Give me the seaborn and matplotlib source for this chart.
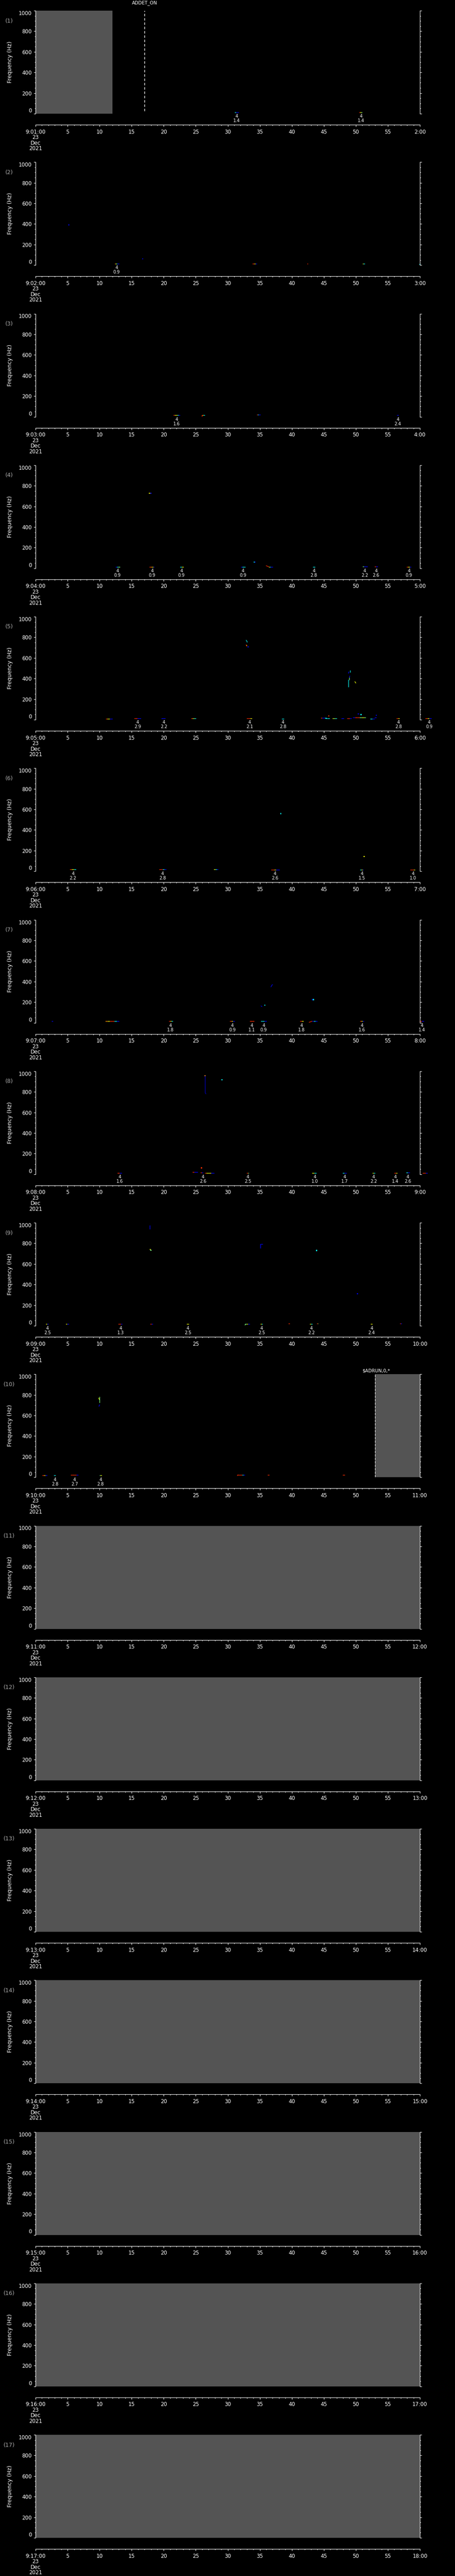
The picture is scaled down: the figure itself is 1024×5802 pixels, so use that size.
import numpy as np
import pandas as pd
import matplotlib
matplotlib.use("Agg")
import matplotlib.pyplot as plt
import seaborn as sns

# one panel per minute, 09:01 .. 09:17, 23 Dec 2021
minutes = list(range(1, 18))
freq_ticks = [0, 200, 400, 600, 800, 1000]

# detections: time in s, label value under the "4"
ev_t = [
    [31.4, 50.8],
    [12.65],
    [22.04, 56.55],
    [12.79, 18.19, 22.77, 32.38, 43.45, 51.39, 53.15, 58.28],
    [15.96, 20.05, 33.42, 38.64, 56.64, 61.45],
    [5.85, 19.82, 37.37, 50.98, 58.91],
    [21.09, 30.70, 33.74, 35.60, 41.54, 50.98, 60.32],
    [13.15, 26.12, 33.15, 43.63, 48.25, 52.79, 56.19, 58.10],
    [1.88, 13.29, 23.8, 35.3, 43.08, 52.46],
    [3.02, 6.07, 10.15],
]
ev_v = [
    ["1.4", "1.4"],
    ["0.9"],
    ["1.6", "2.4"],
    ["0.9", "0.9", "0.9", "0.9", "2.8", "2.2", "2.6", "0.9"],
    ["2.9", "2.2", "2.1", "2.8", "2.8", "0.9"],
    ["2.2", "2.8", "2.6", "1.5", "1.0"],
    ["1.8", "0.9", "1.1", "0.9", "1.8", "1.6", "1.4"],
    ["1.6", "2.6", "2.5", "1.0", "1.7", "2.2", "1.4", "2.6"],
    ["2.5", "1.3", "2.5", "2.5", "2.2", "2.4"],
    ["2.8", "2.7", "2.8"],
]

# low-frequency streaks: t0, t1, freq, colour codes along the streak
streaks = [
    [(31.1, 31.7, 11, "cbb"), (50.5, 51.0, 11, "ryg")],
    [(12.33, 13.02, 14, "rygcbb"), (33.88, 34.56, 14, "ryb"), (42.36, 42.54, 14, "r"),
     (51.02, 51.38, 12, "yc"), (59.87, 60.1, 10, "c")],
    [(21.5, 22.54, 14, "ryycb"), (25.94, 26.4, 14, "ryc"), (34.56, 35.1, 18, "rcbb"),
     (56.37, 56.69, 14, "b")],
    [(12.47, 13.15, 14, "bcg"), (17.78, 18.55, 14, "royb"), (22.54, 23.08, 14, "cy"),
     (32.06, 32.74, 14, "bcc"), (36.4, 37.05, 14, "ycbb"), (43.31, 43.63, 14, "c"),
     (51.02, 51.79, 18, "gbb"), (52.92, 53.38, 18, "rb"), (57.91, 58.6, 14, "ryb")],
    [(10.97, 12.02, 10, "ryybb"), (15.37, 16.42, 12, "rrbb"), (19.64, 20.27, 14, "bb"),
     (24.26, 25.03, 12, "rygc"), (32.97, 33.79, 15, "rry"), (38.41, 38.78, 10, "c"),
     (44.54, 45.4, 17, "rbbc"), (45.2, 45.9, 12, "cc"), (46.35, 47.03, 15, "ygc"),
     (47.71, 48.17, 15, "b"), (48.62, 49.3, 12, "rrb"), (49.53, 51.57, 20, "brrgyg"),
     (52.25, 52.93, 10, "cb"), (52.9, 53.2, 20, "b"), (56.35, 56.81, 14, "ry"),
     (60.86, 61.77, 12, "ryb")],
    [(5.31, 6.3, 18, "ryc"), (19.27, 20.36, 18, "rrcb"), (27.84, 28.53, 18, "ycb"),
     (36.73, 38.05, 14, "rrybb"), (50.66, 51.2, 14, "cyb"), (58.5, 59.27, 14, "rry")],
    [(2.49, 2.68, 14, "b"), (10.88, 13.02, 14, "oyrrcb"), (20.82, 21.41, 14, "ryc"),
     (30.34, 31.07, 14, "ryb"), (33.42, 34.1, 14, "rr"), (35.15, 36.06, 14, "ccb"),
     (41.27, 41.81, 14, "ry"), (43.15, 44.0, 14, "bcb"), (50.66, 51.25, 14, "ryb"),
     (59.96, 60.64, 14, "rb")],
    [(12.79, 13.47, 14, "rb"), (24.49, 25.35, 22, "rbb"), (25.71, 26.17, 18, "rb"),
     (26.4, 27.89, 14, "ryyybb"), (32.97, 33.29, 14, "rg"), (43.17, 43.86, 14, "yc"),
     (47.94, 48.53, 14, "cb"), (52.56, 52.97, 14, "yc"), (55.97, 56.47, 14, "ry"),
     (57.82, 58.37, 18, "cb"), (60.41, 61.18, 14, "rrb")],
    [(1.63, 2.04, 16, "yb"), (4.69, 5.18, 16, "yb"), (12.92, 13.53, 16, "rrb"),
     (17.9, 18.3, 16, "rb"), (23.6, 23.9, 16, "y"), (32.7, 33.4, 16, "gyb"),
     (35.1, 35.46, 16, "yc"), (39.5, 39.7, 21, "r"), (42.8, 43.2, 16, "yc"),
     (43.9, 44.15, 21, "rg"), (52.3, 52.6, 16, "y"), (56.9, 57.15, 21, "rb")],
    [(1.02, 1.83, 20, "ryb"), (2.85, 3.1, 18, "c"), (5.5, 6.64, 23, "rrrb"),
     (9.99, 10.31, 18, "gy"), (31.5, 32.7, 23, "rrrcb"), (36.2, 36.5, 23, "r"),
     (47.93, 48.26, 23, "r")],
]

# short tracks (lines) at higher frequency: times, freqs, colour code
tracks = [
    [], [], [],
    [([36.0, 36.4], [24, 14], "r")],
    [([32.88, 33.0, 33.05], [772, 760, 752], "c"), ([32.88, 32.95], [728, 714], "r"),
     ([48.85, 48.85], [320, 390], "c"), ([48.95, 48.95], [390, 410], "g"),
     ([49.0, 49.05], [410, 425], "b"), ([48.85, 48.9], [450, 465], "b"),
     ([49.1, 49.1], [460, 480], "c"), ([49.85, 50.0], [370, 355], "y")],
    [],
    [([42.7, 43.15], [4, 14], "r"), ([35.2, 35.35], [163, 156], "b"),
     ([36.75, 36.9, 37.0], [347, 365, 370], "b")],
    [([26.49, 26.49, 26.6], [954, 790, 780], "k")],
    [([17.85, 17.85], [938, 975], "b"), ([35.1, 35.46], [792, 792], "b"),
     ([35.1, 35.1], [792, 754], "b"), ([32.7, 32.8], [6, 16], "g")],
    [([10.0, 10.0], [726, 783], "g"), ([9.9, 10.0], [688, 704], "b"),
     ([9.85, 9.95], [770, 755], "y"), ([31.5, 31.6], [16, 23], "r")],
]

# isolated specks: time, freq, colour code
specks = [
    [], [(5.2, 391, "b"), (16.7, 62, "b")],
    [(26.0, 8, "r")],
    [(17.8, 728, "y"), (18.0, 728, "b"), (34.15, 60, "c"), (34.25, 58, "b")],
    [(33.2, 706, "b"), (32.95, 720, "y"), (45.8, 37, "r"), (50.4, 55, "b"),
     (50.8, 50, "c"), (53.2, 43, "b")],
    [(38.3, 560, "c"), (51.3, 143, "y")],
    [(35.8, 170, "c"), (43.2, 225, "b"), (43.4, 225, "c")],
    [(26.45, 955, "o"), (29.1, 917, "c"), (25.9, 62, "r")],
    [(17.9, 741, "y"), (18.0, 733, "g"), (43.86, 730, "c"), (50.25, 311, "b")],
    [],
]

# grey "no data" spans: panel, t0, t1
gaps = [(1, 0, 12.0), (10, 53.0, 60)] + [(m, 0, 60) for m in range(11, 18)]

code_val = {"k": 0.06, "b": 0.13, "c": 0.36, "g": 0.5, "y": 0.64, "o": 0.76, "r": 0.86}
cmap = plt.get_cmap("jet")

sns.set_theme(style="ticks", rc={
    "figure.facecolor": "black", "axes.facecolor": "black", "savefig.facecolor": "black",
    "axes.edgecolor": "white", "axes.labelcolor": "white", "text.color": "white",
    "xtick.color": "white", "ytick.color": "white", "axes.grid": False,
    "axes.linewidth": 0.8,
})
plt.rcParams["font.family"] = ["DejaVu Sans"]

W, H = 1024, 5802
fig = plt.figure(figsize=(W / 100, H / 100), dpi=100)

left, right = 80, 945
pitch = 341.25
for i, m in enumerate(minutes):
    top = 24 + i * pitch
    bot = top + 232
    ax = fig.add_axes([left / W, 1 - bot / H, (right - left) / W, 232 / H])
    ax.set_xlim(0, 60)
    ax.set_ylim(0, 1000)

    for (pm, t0, t1) in gaps:
        if pm == m:
            ax.axvspan(t0, t1, color="#545454", lw=0, zorder=0)
            if pm == 10:
                ax.axvline(t0, color="white", lw=0.8, ls=(0, (5, 2)))

    if i < len(streaks):
        for t0, t1, f, codes in streaks[i]:
            n = len(codes)
            edges = np.linspace(t0, t1, n + 1)
            ax.hlines([f] * n, edges[:-1], edges[1:],
                      colors=[cmap(code_val[c]) for c in codes], lw=1.0, clip_on=False)
        for ts, fs, c in tracks[i]:
            ax.plot(ts, fs, color=cmap(code_val[c]), lw=0.9)
        if specks[i]:
            df = pd.DataFrame(specks[i], columns=["t", "f", "c"])
            df["v"] = df["c"].map(code_val)
            sns.scatterplot(data=df, x="t", y="f", hue="v", palette=cmap, hue_norm=(0, 1),
                            marker="s", s=3, linewidth=0, legend=False, ax=ax)
        for t, v in zip(ev_t[i], ev_v[i]):
            ax.annotate("4", xy=(t, 0), xycoords=("data", "axes fraction"),
                        xytext=(0, -6), textcoords="offset pixels", ha="center",
                        va="center", fontsize=7, annotation_clip=False)
            ax.annotate(v, xy=(t, 0), xycoords=("data", "axes fraction"),
                        xytext=(0, -16), textcoords="offset pixels", ha="center",
                        va="center", fontsize=7, annotation_clip=False)

    if m == 1:
        ax.axvline(17.0, ymin=0.026, ymax=1.0, color="white", lw=1.0, ls=(0, (4, 3)))
        fig.text(325 / W, 1 - 6.5 / H, "ADDET_ON", ha="center", va="center", fontsize=7.5)
    if m == 10:
        fig.text(815 / W, 1 - (top - 8) / H, "$ADRUN,0,*", ha="left", va="center", fontsize=7.5)

    ax.set_xlabel("")
    ax.set_ylabel("")
    ax.spines["top"].set_visible(False)
    ax.spines["bottom"].set_position(("outward", 18))
    ax.set_xticks(range(0, 61, 5))
    ax.set_xticks(range(0, 61, 1), minor=True)
    xl = ["9:%02d:00\n23\nDec\n2021" % m] + [str(s) for s in range(5, 60, 5)] + ["%d:00" % (m + 1)]
    ax.set_xticklabels(xl, fontsize=8.5, linespacing=0.95)
    ax.set_yticks(freq_ticks)
    ax.set_yticks(range(0, 1001, 50), minor=True)
    ax.set_yticklabels([str(v) for v in freq_ticks], fontsize=8.5)
    ylabs = ax.get_yticklabels()
    ylabs[0].set_va("bottom")
    ylabs[-1].set_va("top")
    ax.tick_params(which="both", direction="out", right=True, width=0.8)
    ax.tick_params(which="major", length=3, pad=3)
    ax.tick_params(which="minor", length=1.7)
    ax.tick_params(axis="x", which="major", pad=4)

    fig.text(21 / W, 1 - (top + 23) / H, "(%d)" % m, ha="center", va="center",
             fontsize=9, color="#aaaaaa")
    fig.text(23 / W, 1 - (top + 116) / H, "Frequency (Hz)", rotation=90,
             ha="center", va="center", fontsize=9)

fig.savefig("out.png", dpi=100, facecolor="black")
